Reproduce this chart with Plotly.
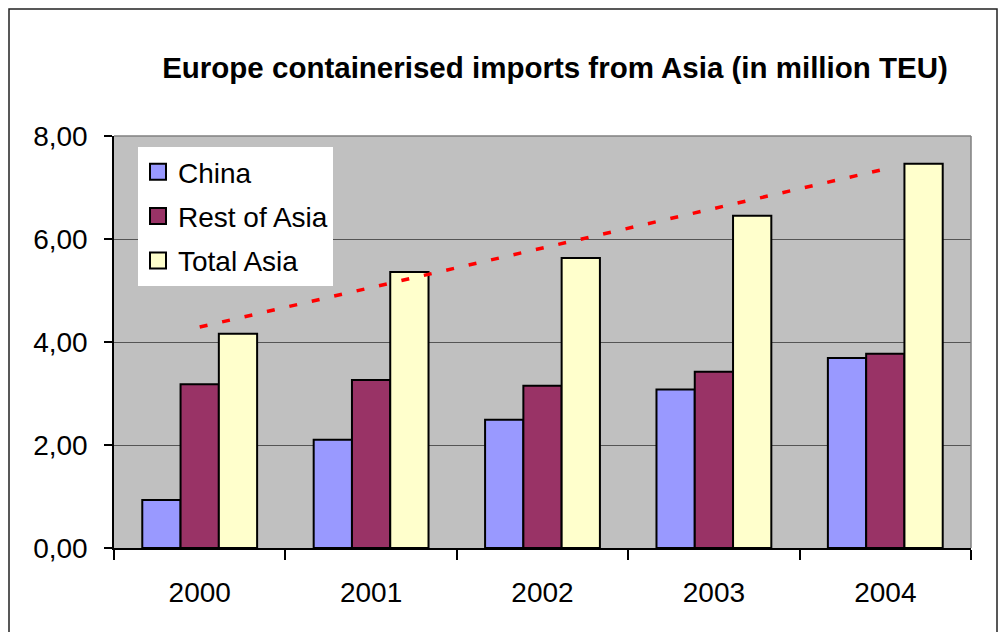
import plotly.graph_objects as go

# ---- data ----
years = ["2000", "2001", "2002", "2003", "2004"]
china = [0.93, 2.10, 2.49, 3.08, 3.69]
rest_of_asia = [3.18, 3.26, 3.15, 3.42, 3.77]
total_asia = [4.16, 5.36, 5.63, 6.45, 7.46]
trend_years = ["2000", "2004"]
trend_values = [4.29, 7.36]
y_ticks = [0, 2, 4, 6, 8]

# ---- layout geometry ----
W, H = 1001, 632
L, R, T, B = 114, 30, 136, 84
PW, PH = W - L - R, H - T - B


def px_x(p):
    return (p - L) / PW


def px_y(p):
    return (H - B - p) / PH


FONT = "Liberation Sans, Arial, sans-serif"

fig = go.Figure()
series = [
    ("China", china, "#9999FF"),
    ("Rest of Asia", rest_of_asia, "#993366"),
    ("Total Asia", total_asia, "#FFFFCC"),
]
for name, vals, col in series:
    fig.add_trace(go.Bar(
        x=years, y=vals, name=name, legendgroup=name, showlegend=False,
        marker=dict(color=col, line=dict(color="#000000", width=2)),
    ))
# legend keys (larger square swatches like the reference)
for name, vals, col in series:
    fig.add_trace(go.Scatter(
        x=[None], y=[None], mode="markers", name=name, legendgroup=name,
        marker=dict(symbol="square", size=16, color=col,
                    line=dict(color="#000000", width=2)),
    ))

fig.add_trace(go.Scatter(
    x=trend_years, y=trend_values, mode="lines", showlegend=False,
    line=dict(color="#FF0000", width=3.5, dash="8px,15px"),
))

fig.update_layout(
    width=W, height=H,
    margin=dict(l=L, r=R, t=T, b=B),
    paper_bgcolor="#FFFFFF",
    plot_bgcolor="#C0C0C0",
    separators=",.",
    barmode="group",
    bargap=0.33,
    bargroupgap=0,
    font=dict(family=FONT, size=28, color="#000000"),
    title=dict(
        text="<b>Europe containerised imports from Asia (in million TEU)</b>",
        font=dict(family=FONT, size=29.5, color="#000000"),
        xref="container", x=555 / W, xanchor="center",
        yref="container", y=1 - 68 / H, yanchor="middle",
    ),
    legend=dict(
        x=px_x(138), y=px_y(147), xanchor="left", yanchor="top",
        bgcolor="#FFFFFF", borderwidth=0,
        font=dict(family=FONT, size=28, color="#000000"),
        tracegroupgap=5,
        traceorder="grouped",
    ),
    showlegend=True,
    xaxis=dict(
        type="category",
        categoryorder="array", categoryarray=years,
        showgrid=False,
        showline=True, linecolor="#000000", linewidth=1.5,
        ticks="outside", tickson="boundaries", ticklen=10,
        tickcolor="#000000", tickwidth=1.5,
        tickfont=dict(family=FONT, size=28),
        ticklabelstandoff=19,
    ),
    yaxis=dict(
        range=[0, 8],
        tickvals=y_ticks,
        tickformat=".2f",
        showgrid=True, gridcolor="#555555", gridwidth=1,
        zeroline=False,
        showline=True, linecolor="#000000", linewidth=1.5,
        ticks="outside", ticklen=8, tickcolor="#000000", tickwidth=1.5,
        tickfont=dict(family=FONT, size=28),
        ticklabelstandoff=11,
    ),
    shapes=[
        # plot area top and right border (grey)
        dict(type="line", xref="paper", yref="paper", x0=0, x1=1, y0=1, y1=1,
             line=dict(color="#808080", width=1.5), layer="above"),
        dict(type="line", xref="paper", yref="paper", x0=1, x1=1, y0=0, y1=1,
             line=dict(color="#808080", width=1.5), layer="above"),
        # chart frame
        dict(type="rect", xref="paper", yref="paper",
             x0=px_x(9), x1=px_x(997), y0=px_y(660), y1=px_y(9),
             line=dict(color="#222222", width=1.5), layer="below"),
    ],
)

fig.write_html("out.html")
